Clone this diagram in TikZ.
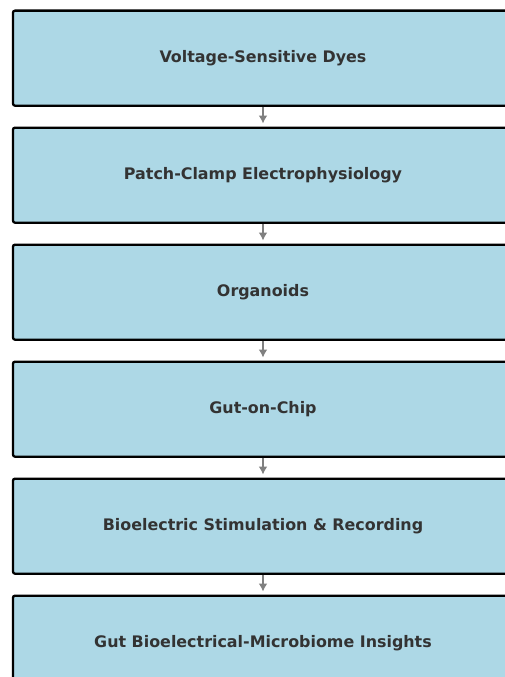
\documentclass[tikz,border=0pt]{standalone}
\usepackage{fontspec}
\setmainfont{DejaVu Sans}
\usetikzlibrary{chains,positioning,arrows.meta}
\definecolor{boxblue}{HTML}{ADD8E6}
\definecolor{textgray}{HTML}{333333}
\begin{document}
\begin{tikzpicture}[x=1pt,y=1pt]
  \useasboundingbox (0,0) rectangle (505,-677);
  \clip (0,0) rectangle (505,-677);
  \coordinate (flow-start) at (263,10.2);
  \begin{scope}[
    every node/.style={
      draw,
      on chain,
      fill=boxblue,
      line width=2.3pt,
      rounded corners=2pt,
      minimum width=500pt,
      minimum height=95pt,
      text=textgray,
      font=\fontsize{15.9}{19}\selectfont\bfseries,
    },
    node distance=19.7pt,
    start chain=going below,
    ]
    \chainin (flow-start);
    \node (dyes)      {Voltage-Sensitive Dyes};
    \node (patch)     {Patch-Clamp Electrophysiology};
    \node (organoids) {Organoids};
    \node (chip)      {Gut-on-Chip};
    \node (stim)      {Bioelectric Stimulation \& Recording};
    \node (insights)  {Gut Bioelectrical-Microbiome Insights};
  \end{scope}
  \begin{scope}[
    every path/.style={draw=gray,line width=2.5pt,-{Latex[length=8pt,width=9pt]},shorten >=3pt},
    ]
    \path
    (dyes)      edge (patch)
    (patch)     edge (organoids)
    (organoids) edge (chip)
    (chip)      edge (stim)
    (stim)      edge (insights);
  \end{scope}
\end{tikzpicture}
\end{document}
